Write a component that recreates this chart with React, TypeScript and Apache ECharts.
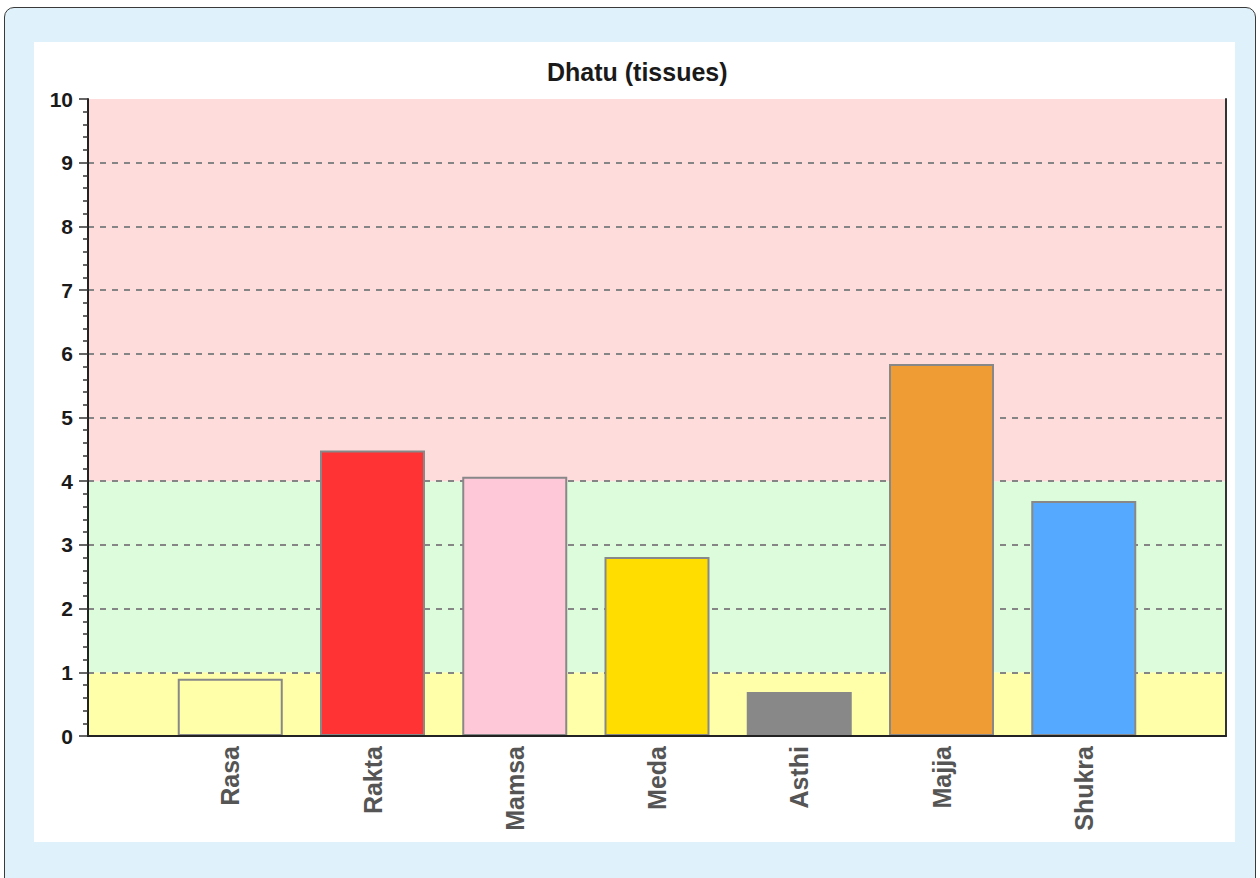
import React, { useEffect, useRef } from 'react';
import * as echarts from 'echarts';

const chartTitle = 'Dhatu (tissues)';
const categories = ['Rasa', 'Rakta', 'Mamsa', 'Meda', 'Asthi', 'Majja', 'Shukra'];
const values = [0.9, 4.48, 4.07, 2.81, 0.69, 5.84, 3.69];
const barColors = ['#ffffaa', '#ff3333', '#ffc8d8', '#ffdd00', '#888888', '#f09c35', '#55aaff'];
const bandLows = [0, 1, 4];
const bandHighs = [1, 4, 10];
const bandColors = ['#ffffaa', '#dcfcdc', '#ffdcdc'];
const yMin = 0;
const yMax = 10;
const yInterval = 1;

const FONT = '"Liberation Sans", Arial, sans-serif';

export default function App() {
  const ref = useRef<HTMLDivElement>(null);

  useEffect(() => {
    if (!ref.current) return;
    const chart = echarts.init(ref.current, undefined, { renderer: 'svg' });
    const axisCats = ['', ...categories, ''];
    const barData: any[] = ['-', ...values.map((v, i) => ({ value: v, itemStyle: { color: barColors[i] } })), '-'];
    const bandData = bandLows.map((lo, i) => [0, lo, bandHighs[i]]);

    chart.setOption({
      animation: false,
      backgroundColor: 'transparent',
      title: {
        text: chartTitle,
        left: 542,
        top: 54,
        textStyle: { fontFamily: FONT, fontSize: 25, fontWeight: 'bold', color: '#1a1a1a' },
      },
      grid: { left: 88, right: 34, top: 99, bottom: 142, containLabel: false },
      xAxis: {
        type: 'category',
        data: axisCats,
        boundaryGap: false,
        z: 3,
        axisLine: { show: true, lineStyle: { color: '#222', width: 2 } },
        axisTick: { show: false },
        splitLine: { show: false },
        axisLabel: {
          rotate: 90,
          interval: 0,
          margin: 10,
          fontFamily: FONT,
          fontSize: 25,
          fontWeight: 'bold',
          color: '#555',
        },
      },
      yAxis: [
        {
          type: 'value',
          min: yMin,
          max: yMax,
          interval: yInterval,
          z: 1,
          axisLine: { show: true, lineStyle: { color: '#222', width: 2 } },
          axisTick: { show: true, length: 9, lineStyle: { color: '#333', width: 1.5 } },
          minorTick: { show: true, splitNumber: 5, length: 5, lineStyle: { color: '#333', width: 1.5 } },
          splitLine: {
            show: true,
            showMinLine: false,
            showMaxLine: false,
            lineStyle: { type: [6, 6], color: '#858585', width: 1.8 },
          },
          axisLabel: {
            margin: 15,
            fontFamily: FONT,
            fontSize: 21,
            fontWeight: 'bold',
            color: '#1a1a1a',
          },
        },
        {
          type: 'value',
          min: yMin,
          max: yMax,
          interval: yInterval,
          position: 'right',
          z: 3,
          axisLine: { show: true, lineStyle: { color: '#333', width: 2 } },
          axisTick: { show: false },
          axisLabel: { show: false },
          splitLine: { show: false },
        },
      ],
      series: [
        {
          type: 'custom',
          z: 0,
          silent: true,
          data: bandData,
          encode: { x: 0, y: [1, 2] },
          renderItem: (params: any, api: any) => {
            const cs = params.coordSys;
            const top = api.coord([0, api.value(2)])[1];
            const bottom = api.coord([0, api.value(1)])[1];
            return {
              type: 'rect',
              shape: { x: cs.x, y: top, width: cs.width, height: bottom - top },
              style: { fill: bandColors[params.dataIndex] },
            };
          },
        },
        {
          type: 'bar',
          z: 2,
          barWidth: 105,
          data: barData,
          itemStyle: { borderColor: '#888', borderWidth: 2 },
        },
      ],
    });
    return () => chart.dispose();
  }, []);

  return (
    <div style={{ position: 'fixed', left: 0, top: 0, width: 1260, height: 878, overflow: 'hidden', background: '#fff' }}>
      <div
        style={{
          position: 'absolute',
          left: 4,
          top: 7,
          width: 1252,
          height: 900,
          background: '#dff1fb',
          border: '1.5px solid #3a3a3a',
          borderRadius: 10,
          boxSizing: 'border-box',
        }}
      />
      <div style={{ position: 'absolute', left: 34, top: 42, width: 1201, height: 800, background: '#fff' }} />
      <div ref={ref} style={{ position: 'absolute', left: 0, top: 0, width: 1260, height: 878 }} />
    </div>
  );
}
